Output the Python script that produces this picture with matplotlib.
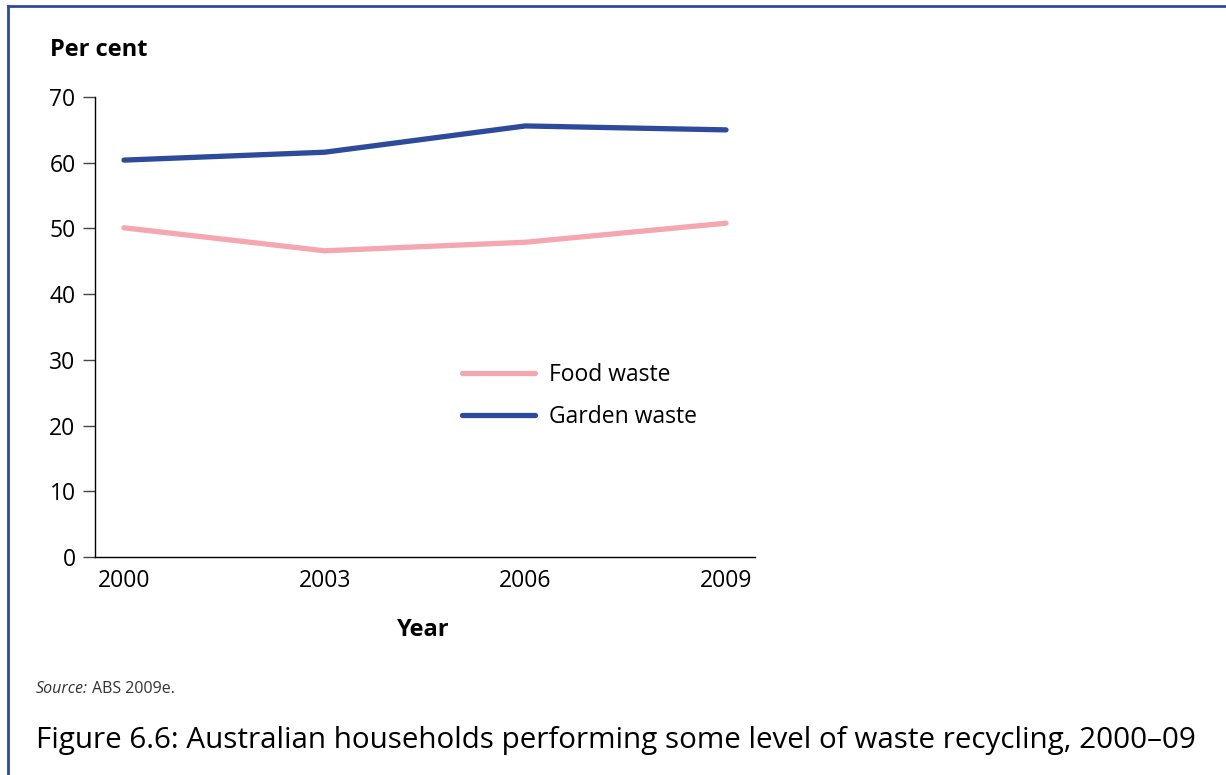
import matplotlib.pyplot as plt
from matplotlib.lines import Line2D

years = [2000, 2003, 2006, 2009]
food = [50.1, 46.6, 47.9, 50.8]
garden = [60.4, 61.6, 65.6, 65.0]
yticks = [0, 10, 20, 30, 40, 50, 60, 70]

plt.rcParams['font.family'] = ['Open Sans', 'DejaVu Sans']

fig = plt.figure(figsize=(12.26, 7.75), dpi=100)
ax = fig.add_axes([0.0775, 0.2813, 0.5383, 0.5935])

ax.plot(years, food, color='#f4a7b0', lw=3.8, solid_capstyle='round', label='Food waste')
ax.plot(years, garden, color='#2d4a9c', lw=3.8, solid_capstyle='round', label='Garden waste')

ax.set_xlim(1999.567, 2009.433)
ax.set_ylim(0, 70)
ax.set_xticks(years)
ax.set_yticks(yticks)
ax.tick_params(axis='x', length=0, labelsize=16.5, pad=9)
ax.tick_params(axis='y', length=9, width=1, labelsize=16.5, pad=5, color='#444444')
for s in ['top', 'right']:
    ax.spines[s].set_visible(False)
for s in ['left', 'bottom']:
    ax.spines[s].set_linewidth(1)

ax.legend(loc='upper left', bbox_to_anchor=(0.556, 0.422), frameon=False, fontsize=16.5,
          handlelength=3.2, handletextpad=0.6, labelspacing=0.78, borderpad=0, borderaxespad=0)

fig.text(0.041, 0.935, 'Per cent', fontsize=17, fontweight='bold', ha='left', va='center')
fig.text(0.345, 0.187, 'Year', fontsize=17, fontweight='bold', ha='center', va='center')
src = fig.text(0.029, 0.111, 'Source:', fontsize=11.5, style='italic', color='#333333',
               ha='left', va='center')
ax.annotate('ABS 2009e.', xy=(1, 0.5), xycoords=src, xytext=(3, 0), textcoords='offset points',
            fontsize=11.5, color='#333333', ha='left', va='center', annotation_clip=False)
fig.text(0.029, 0.045, 'Figure 6.6: Australian households performing some level of waste recycling, 2000\u201309',
         fontsize=21.3, ha='left', va='center')

# frame on the left and top
fig.add_artist(Line2D([0.0065, 0.0065], [0, 0.992], transform=fig.transFigure, color='#2d4a9c', lw=2))
fig.add_artist(Line2D([0.0065, 1], [0.992, 0.992], transform=fig.transFigure, color='#2d4a9c', lw=2))

fig.savefig('out.png', dpi=100)
